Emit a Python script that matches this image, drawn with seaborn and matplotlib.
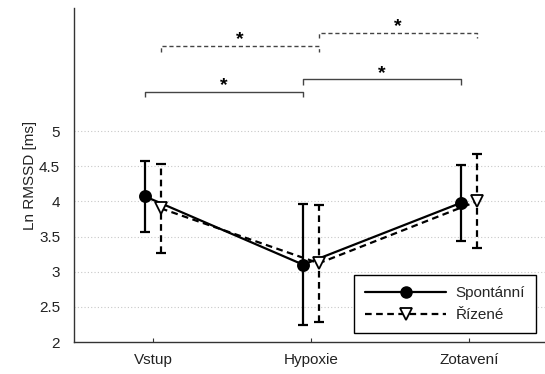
import numpy as np
import pandas as pd
import matplotlib
matplotlib.use("Agg")
import matplotlib.pyplot as plt
import seaborn as sns
from matplotlib.lines import Line2D

categories = ["Vstup", "Hypoxie", "Zotavení"]
series_names = ["Spontánní", "Řízené"]
spont_mean = [4.07, 3.10, 3.98]
spont_err = [0.50, 0.86, 0.54]
rizene_mean = [3.90, 3.12, 4.00]
rizene_err = [0.63, 0.83, 0.67]
yticks = [2, 2.5, 3, 3.5, 4, 4.5, 5]
ytick_labels = ["2", "2.5", "3", "3.5", "4", "4.5", "5"]

# significance brackets: (series index, from category, to category, height)
brackets = [(0, 0, 1, 5.56), (0, 1, 2, 5.74), (1, 0, 1, 6.21), (1, 1, 2, 6.40)]

sns.set_theme(style="white")
plt.rcParams['font.family'] = ['Liberation Sans', 'DejaVu Sans']

FS = 11
fig = plt.figure(figsize=(5.45, 3.74), dpi=100)
ax = fig.add_axes([74 / 545, 32 / 374, 474 / 545, 334 / 374])

offset = 0.05
pos = np.arange(len(categories)) + 1
df = pd.DataFrame({
    "x": np.concatenate([pos - offset, pos + offset]),
    "y": spont_mean + rizene_mean,
    "err": spont_err + rizene_err,
    "series": [series_names[0]] * 3 + [series_names[1]] * 3,
})

styles = {
    series_names[0]: dict(ls="-", marker="o", mfc="black", ms=8, dashes=None),
    series_names[1]: dict(ls="--", marker="v", mfc="white", ms=8, dashes=(3, 2)),
}

for name, st in styles.items():
    sub = df[df.series == name]
    ax.errorbar(sub.x, sub.y, yerr=sub.err, fmt="none", ecolor="black",
                elinewidth=1.6, capsize=3.8, capthick=1.6, zorder=2)
    eb = ax.containers[-1]
    for lc in eb.lines[2]:
        lc.set_linestyle("-" if st["dashes"] is None else (0, st["dashes"]))

for name, st in styles.items():
    sub = df[df.series == name]
    kw = dict(color="black", linewidth=1.6, marker=st["marker"], markersize=st["ms"],
              markerfacecolor=st["mfc"], markeredgecolor="black", markeredgewidth=1.3)
    sns.lineplot(x=sub.x.values, y=sub.y.values, ax=ax, sort=False, **kw)
    line = ax.lines[-1]
    if st["dashes"] is not None:
        line.set_dashes(st["dashes"])
    line.set_zorder(3)

# brackets
for s, a, b, h in brackets:
    xa = pos[a] + (offset if s == 1 else -offset)
    xb = pos[b] + (offset if s == 1 else -offset)
    ls = "-" if s == 0 else (0, (3, 2))
    col = "#444444"
    ax.plot([xa, xa, xb, xb], [h - 0.08, h, h, h - 0.08], color=col, lw=1.0,
            linestyle=ls, solid_capstyle="butt", clip_on=False)
    ax.text((xa + xb) / 2, h + 0.02, "*", ha="center", va="baseline", fontsize=14,
            fontweight="bold", color="black")

ax.set_xlim(0.5, 3.5)
ax.set_ylim(2, 6.75)
ax.set_xticks(pos)
ax.set_xticklabels(categories, fontsize=FS, color="#222222")
ax.set_yticks(yticks)
ax.set_yticklabels(ytick_labels, fontsize=FS, color="#222222")
ax.set_ylabel("Ln RMSSD [ms]", fontsize=FS, color="#222222")
ax.yaxis.set_label_coords(-0.078, 0.5)
ax.set_xlabel("")

for y in yticks[1:]:
    ax.axhline(y, color="#c8c8c8", lw=0.8, ls=(0, (1, 2)), zorder=0)

for side in ["top", "right"]:
    ax.spines[side].set_visible(False)
for side in ["left", "bottom"]:
    ax.spines[side].set_color("#333333")
    ax.spines[side].set_linewidth(1.0)
ax.tick_params(axis="x", direction="in", length=3, width=0.8, color="#333333",
               bottom=True, pad=8)
ax.tick_params(axis="y", left=False, pad=4)

handles = [
    Line2D([], [], color="black", lw=1.6, marker="o", ms=8, mfc="black", mec="black"),
    Line2D([], [], color="black", lw=1.6, ls=(0, (3, 2)), marker="v", ms=8, mfc="white",
           mec="black", mew=1.3),
]
leg = ax.legend(handles, series_names, loc="lower right", bbox_to_anchor=(0.99, 0.005),
                fontsize=FS, frameon=True, fancybox=False, handlelength=5.3,
                borderpad=0.75, labelspacing=0.5, handletextpad=0.6, borderaxespad=0.45)
leg.get_frame().set_edgecolor("black")
leg.get_frame().set_linewidth(1.0)
leg.get_frame().set_alpha(1)

fig.savefig("out.png", dpi=100)
